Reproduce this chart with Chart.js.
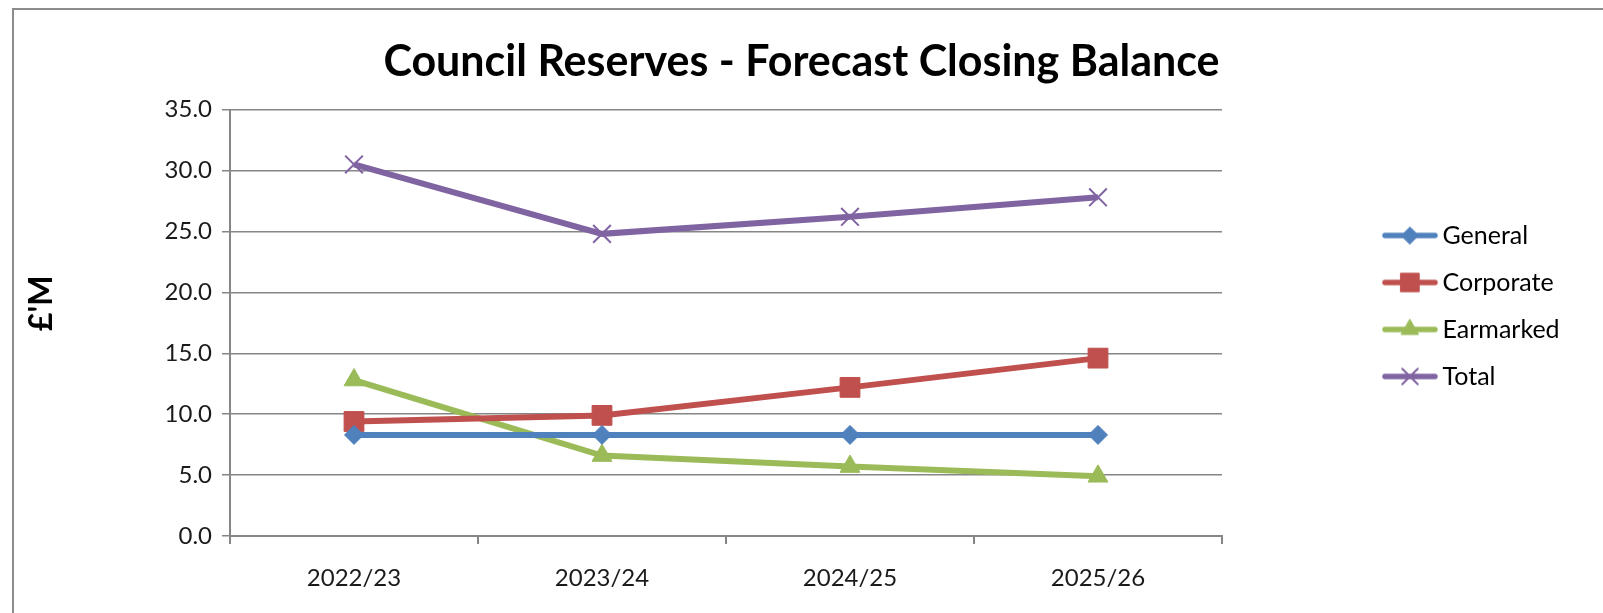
<!DOCTYPE html>
<html>
<head>
<meta charset="utf-8">
<script src="https://cdn.jsdelivr.net/npm/chart.js@4.4.1/dist/chart.umd.min.js"></script>
<style>
  html, body { margin: 0; padding: 0; background: #fff; overflow: hidden; }
  #frame { position: absolute; left: 12px; top: 8px; width: 1700px; height: 700px; border: 2px solid #8c8c8c; }
  #wrap { position: absolute; left: 0; top: 0; width: 1603px; height: 613px; }
</style>
</head>
<body>
<div id="frame"></div>
<div id="wrap"><canvas id="chartReserves" width="1603" height="613"></canvas></div>
<script>
// Council reserves, closing balance per year (£m)
const years = ['2022/23', '2023/24', '2024/25', '2025/26'];
const general = [8.3, 8.3, 8.3, 8.3];
const corporate = [9.4, 9.9, 12.2, 14.6];
const earmarked = [12.8, 6.6, 5.7, 4.9];
const total = [30.5, 24.8, 26.2, 27.8];

const FONT = "Lato, 'Open Sans', sans-serif";

// legend icon: short line with the marker in the middle (Excel style)
function makeIcon(color, style, radius, borderWidth) {
    const c = document.createElement('canvas');
    c.width = 56;
    c.height = 28;
    const g = c.getContext('2d');
    g.strokeStyle = color;
    g.fillStyle = color;
    g.lineWidth = 5.5;
    g.lineCap = 'round';
    g.beginPath();
    g.moveTo(3, 14);
    g.lineTo(53, 14);
    g.stroke();
    g.lineWidth = borderWidth;
    Chart.helpers.drawPoint(g, { pointStyle: style, radius: radius, rotation: 0, borderWidth: borderWidth }, 28, 14);
    return c;
}

const legendPlace = {
    id: 'legendPlace',
    beforeInit(chart) {
        const lg = chart.legend;
        const fit = lg.fit;
        lg.fit = function () {
            fit.call(this);
            this.width = 381;
        };
    },
    afterLayout(chart) {
        const lg = chart.legend;
        lg.left = 1368;
        lg.right = 1603;
        lg.top = 201;
        lg.bottom = 613;
        lg.width = lg.right - lg.left;
        lg.height = lg.bottom - lg.top;
    }
};

const ctxReserves = document.getElementById('chartReserves');
if (ctxReserves) {
    const icons = [
        makeIcon('#4F81BD', 'rectRot', 8.5, 1),
        makeIcon('#C0504D', 'rect', 13, 1),
        makeIcon('#9BBB59', 'triangle', 10, 1),
        makeIcon('#8064A2', 'crossRot', 11, 2),
    ];
    new Chart(ctxReserves, {
        type: 'line',
        data: {
            labels: years,
            datasets: [{
                label: 'General',
                data: general,
                borderColor: '#4F81BD',
                backgroundColor: '#4F81BD',
                pointStyle: 'rectRot',
                pointRadius: 9.5,
                pointBorderWidth: 1,
            }, {
                label: 'Corporate',
                data: corporate,
                borderColor: '#C0504D',
                backgroundColor: '#C0504D',
                pointStyle: 'rect',
                pointRadius: 14,
                pointBorderWidth: 1,
            }, {
                label: 'Earmarked',
                data: earmarked,
                borderColor: '#9BBB59',
                backgroundColor: '#9BBB59',
                pointStyle: 'triangle',
                pointRadius: 11.5,
                pointBorderWidth: 1,
            }, {
                label: 'Total',
                data: total,
                borderColor: '#8064A2',
                backgroundColor: '#8064A2',
                pointStyle: 'crossRot',
                pointRadius: 12.5,
                pointBorderWidth: 2,
            }],
        },
        options: {
            responsive: false,
            animation: false,
            devicePixelRatio: 1,
            layout: { padding: 0 },
            elements: {
                line: { borderWidth: 6, tension: 0 },
            },
            plugins: {
                title: {
                    display: true,
                    text: 'Council Reserves - Forecast Closing Balance',
                    color: '#000',
                    font: { family: FONT, size: 43, weight: 'bold' },
                    padding: { top: 36, bottom: 22 },
                },
                legend: {
                    display: true,
                    position: 'right',
                    align: 'start',
                    labels: {
                        usePointStyle: true,
                        pointStyleWidth: 40,
                        boxHeight: 20,
                        padding: 22,
                        color: '#000',
                        font: { family: FONT, size: 25 },
                        generateLabels: chart => chart.data.datasets.map((ds, i) => ({
                            text: ds.label,
                            pointStyle: icons[i],
                            fillStyle: ds.backgroundColor,
                            strokeStyle: ds.borderColor,
                            lineWidth: 0,
                            hidden: false,
                            datasetIndex: i,
                            fontColor: '#000',
                        })),
                    },
                },
                tooltip: { enabled: false },
            },
            scales: {
                x: {
                    offset: true,
                    grid: {
                        offset: true,
                        drawOnChartArea: false,
                        color: '#868686',
                        lineWidth: 2,
                        tickLength: 8,
                    },
                    border: { color: '#868686', width: 2 },
                    ticks: {
                        color: '#1a1a1a',
                        padding: 20,
                        font: { family: FONT, size: 24 },
                    },
                    afterFit: axis => { axis.height = 77; },
                },
                y: {
                    min: 0,
                    max: 35,
                    ticks: {
                        stepSize: 5,
                        color: '#1a1a1a',
                        padding: 10,
                        font: { family: FONT, size: 24 },
                        callback: v => v.toFixed(1),
                    },
                    grid: {
                        color: '#868686',
                        lineWidth: 1.5,
                        tickLength: 8,
                    },
                    border: { color: '#868686', width: 2 },
                    title: {
                        display: true,
                        // leading spaces push the rotated label up a little, as in the original
                        text: "     £'M",
                        color: '#000',
                        font: { family: FONT, size: 32, weight: 'bold' },
                        padding: { top: 22, bottom: 0 },
                    },
                    afterFit: axis => { axis.width = 230; },
                },
            },
        },
        plugins: [legendPlace],
    });
}
</script>
</body>
</html>
